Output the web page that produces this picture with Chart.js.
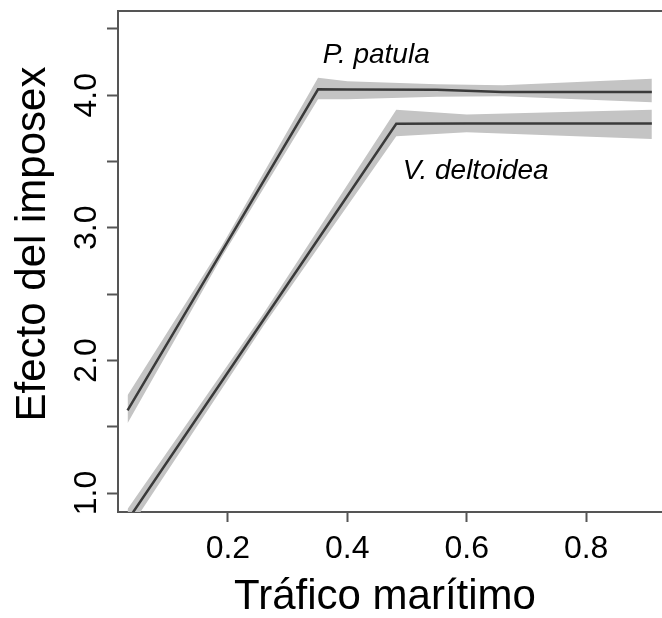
<!DOCTYPE html>
<html>
<head>
<meta charset="utf-8">
<script src="https://cdn.jsdelivr.net/npm/chart.js@4.4.1/dist/chart.umd.min.js"></script>
<style>
  html, body { margin: 0; padding: 0; background: #fff; }
  #wrap { width: 662px; height: 618px; }
</style>
</head>
<body>
<div id="wrap"><canvas id="chart" width="662" height="618"></canvas></div>
<script>
// axis ticks
const xTicks = [0.2, 0.4, 0.6, 0.8];
const yTicks = [1.0, 1.5, 2.0, 2.5, 3.0, 3.5, 4.0, 4.5];
const yTickLabels = ['1.0', '', '2.0', '', '3.0', '', '4.0', ''];

// P. patula: fitted effect and confidence band
const patulaX    = [0.032, 0.19, 0.351, 0.40, 0.55, 0.66, 0.91];
const patulaFit  = [1.624, 2.823, 4.045, 4.043, 4.041, 4.025, 4.025];
const patulaHigh = [1.737, 2.865, 4.132, 4.105, 4.083, 4.075, 4.125];
const patulaLow  = [1.526, 2.781, 3.970, 3.970, 3.989, 3.992, 3.947];

// V. deltoidea
const deltoideaX    = [0.032, 0.26, 0.482, 0.60, 0.91];
const deltoideaFit  = [0.794, 2.309, 3.784, 3.787, 3.787];
const deltoideaHigh = [0.880, 2.355, 3.890, 3.855, 3.890];
const deltoideaLow  = [0.710, 2.263, 3.690, 3.720, 3.670];

const species = ['P. patula', 'V. deltoidea'];

const FONT = "'Liberation Sans', Arial, sans-serif";
const AXIS = '#555';
const BAND = '#c4c4c4';
const LINE = '#3a3a3a';

const pts = (xs, ys) => xs.map((x, i) => ({ x: x, y: ys[i] }));

const lineDs = (xs, ys) => ({
  data: pts(xs, ys), borderColor: LINE, borderWidth: 2.5,
  pointRadius: 0, tension: 0, fill: false
});
const bandDs = (xs, ys, fill) => ({
  data: pts(xs, ys), borderWidth: 0, borderColor: 'rgba(0,0,0,0)',
  backgroundColor: BAND, pointRadius: 0, tension: 0, fill: fill
});

// top border, rotated y labels, titles, species names
const extras = {
  id: 'extras',
  afterDraw(chart) {
    const { ctx, chartArea: a, scales: { x, y } } = chart;
    ctx.save();
    ctx.strokeStyle = AXIS;
    ctx.lineWidth = 2;
    ctx.beginPath();
    ctx.moveTo(a.left - 1, a.top);
    ctx.lineTo(a.right, a.top);
    ctx.stroke();

    ctx.fillStyle = '#000';
    ctx.textAlign = 'center';
    ctx.textBaseline = 'alphabetic';
    ctx.font = '32px ' + FONT;
    yTicks.forEach((v, i) => {
      if (!yTickLabels[i]) return;
      ctx.save();
      ctx.translate(96, y.getPixelForValue(v));
      ctx.rotate(-Math.PI / 2);
      ctx.fillText(yTickLabels[i], 0, 0);
      ctx.restore();
    });

    ctx.font = '42px ' + FONT;
    ctx.fillText('Tráfico marítimo', 385, 609);
    ctx.save();
    ctx.translate(45, 244);
    ctx.rotate(-Math.PI / 2);
    ctx.fillText('Efecto del imposex', 0, 0);
    ctx.restore();

    ctx.font = 'italic 28px ' + FONT;
    ctx.textAlign = 'left';
    ctx.fillText(species[0], x.getPixelForValue(0.359), y.getPixelForValue(4.24));
    ctx.fillText(species[1], x.getPixelForValue(0.493), y.getPixelForValue(3.368));
    ctx.restore();
  }
};

new Chart(document.getElementById('chart'), {
  type: 'line',
  data: {
    datasets: [
      lineDs(patulaX, patulaFit),
      lineDs(deltoideaX, deltoideaFit),
      bandDs(patulaX, patulaHigh, '+1'),
      bandDs(patulaX, patulaLow, false),
      bandDs(deltoideaX, deltoideaHigh, '+1'),
      bandDs(deltoideaX, deltoideaLow, false)
    ]
  },
  options: {
    responsive: false,
    animation: false,
    layout: { padding: { top: 11, right: 0, left: 0, bottom: 0 } },
    plugins: { legend: { display: false }, tooltip: { enabled: false } },
    scales: {
      x: {
        type: 'linear', min: 0.016, max: 0.927,
        afterBuildTicks: s => { s.ticks = xTicks.map(v => ({ value: v })); },
        afterFit: s => { s.height = 106; },
        ticks: {
          color: '#000', padding: 8, maxRotation: 0,
          font: { family: FONT, size: 32 },
          callback: v => v.toFixed(1)
        },
        grid: { drawOnChartArea: false, tickLength: 10, tickWidth: 2, tickColor: AXIS },
        border: { display: true, color: AXIS, width: 2 }
      },
      y: {
        type: 'linear', min: 0.857, max: 4.635,
        afterBuildTicks: s => { s.ticks = yTicks.map(v => ({ value: v })); },
        afterFit: s => { s.width = 118; },
        ticks: { display: false },
        grid: { drawOnChartArea: false, tickLength: 11, tickWidth: 2, tickColor: AXIS },
        border: { display: true, color: AXIS, width: 2 }
      }
    }
  },
  plugins: [extras]
});
</script>
</body>
</html>
